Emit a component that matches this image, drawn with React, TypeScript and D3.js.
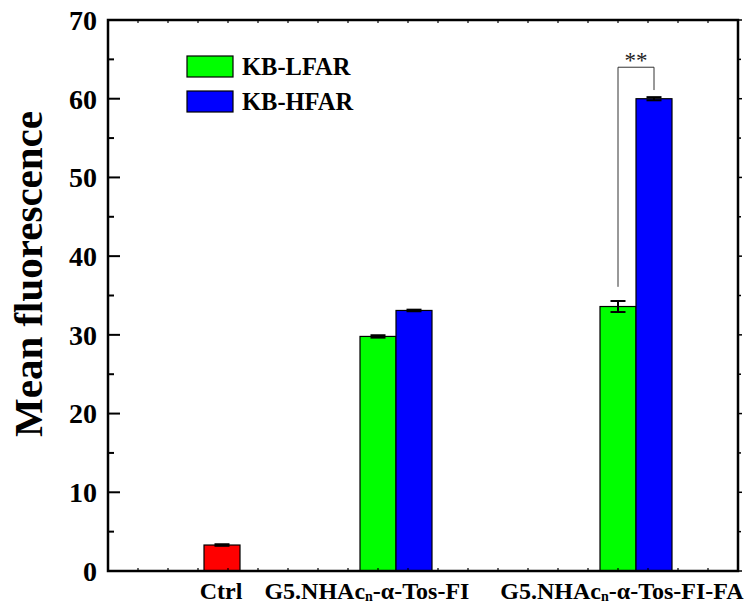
import React from "react";
import * as d3 from "d3";

const categories = ["Ctrl", "G5.NHAcn-α-Tos-FI", "G5.NHAcn-α-Tos-FI-FA"];
const seriesNames = ["KB-LFAR", "KB-HFAR"];
const ctrlValue = [3.3];
const ctrlError = [0.1];
const lfarValues = [29.8, 33.6];
const lfarErrors = [0.15, 0.7];
const hfarValues = [33.1, 60.0];
const hfarErrors = [0.1, 0.2];
const yTicks = [0, 10, 20, 30, 40, 50, 60, 70];

const W = 750;
const H = 609;
const FONT = "'Liberation Serif', 'Times New Roman', serif";

// layout (x-domain units)
const ctrlPos = 3.8;
const groupPos = [9.6, 17.6];
const barW = 1.2;
const labelPos = [3.77, 8.63, 17.13];

export default function App() {
  const x = d3.scaleLinear().domain([0, 21]).range([108, 738]);
  const y = d3.scaleLinear().domain([0, 70]).range([571, 20]);
  const minor = d3.range(5, 70, 10);
  const xMinor = d3.range(1, 21, 1);

  const bars: { x0: number; x1: number; v: number; e: number; fill: string }[] = [];
  bars.push({ x0: ctrlPos - barW / 2, x1: ctrlPos + barW / 2, v: ctrlValue[0], e: ctrlError[0], fill: "#ff0000" });
  groupPos.forEach((g, i) => {
    bars.push({ x0: g - barW, x1: g, v: lfarValues[i], e: lfarErrors[i], fill: "#00ff00" });
    bars.push({ x0: g, x1: g + barW, v: hfarValues[i], e: hfarErrors[i], fill: "#0000ff" });
  });

  const gL = groupPos[1] - barW / 2;
  const gH = groupPos[1] + barW / 2;
  const brTop = y(64);

  return (
    <svg width={W} height={H} style={{ position: "absolute", left: 0, top: 0, background: "#fff" }} fontFamily={FONT}>
      {/* bars */}
      {bars.map((b, i) => (
        <rect key={i} x={x(b.x0)} y={y(b.v)} width={x(b.x1) - x(b.x0)} height={y(0) - y(b.v)}
          fill={b.fill} stroke="#000" strokeWidth={1.2} />
      ))}
      {/* error bars */}
      {bars.map((b, i) => {
        const cx = (x(b.x0) + x(b.x1)) / 2;
        return (
          <g key={"e" + i} stroke="#000" strokeWidth={2}>
            <line x1={cx} x2={cx} y1={y(b.v + b.e)} y2={y(b.v - b.e)} />
            <line x1={cx - 7.5} x2={cx + 7.5} y1={y(b.v + b.e)} y2={y(b.v + b.e)} />
            <line x1={cx - 7.5} x2={cx + 7.5} y1={y(b.v - b.e)} y2={y(b.v - b.e)} />
          </g>
        );
      })}
      {/* significance bracket */}
      <path d={`M${x(gL)},${y(36.1)} V${brTop} H${x(gH)} V${y(61.1)}`} fill="none" stroke="#333" strokeWidth={1} />
      <text x={(x(gL) + x(gH)) / 2} y={brTop + 1} textAnchor="middle" fontSize={23} fill="#222">**</text>

      {/* frame */}
      <rect x={x(0)} y={y(70)} width={x(21) - x(0)} height={y(0) - y(70)} fill="none" stroke="#000" strokeWidth={2.5} />
      {yTicks.map((t) => (
        <g key={"yt" + t}>
          <line x1={x(0)} x2={x(0) + 12} y1={y(t)} y2={y(t)} stroke="#000" strokeWidth={2} />
          <line x1={x(21)} x2={x(21) + 4} y1={y(t)} y2={y(t)} stroke="#000" strokeWidth={1.5} />
          <text x={97} y={y(t)} dy="0.35em" textAnchor="end" fontSize={28} fontWeight="bold">{t}</text>
        </g>
      ))}
      {minor.map((t) => (
        <g key={"ym" + t}>
          <line x1={x(0)} x2={x(0) + 6} y1={y(t)} y2={y(t)} stroke="#000" strokeWidth={2} />
          <line x1={x(21)} x2={x(21) + 3} y1={y(t)} y2={y(t)} stroke="#000" strokeWidth={1.5} />
        </g>
      ))}
      {xMinor.map((t) => (
        <g key={"xm" + t} stroke="#000" strokeWidth={1.2}>
          <line x1={x(t)} x2={x(t)} y1={y(0)} y2={y(0) - 3} />
          <line x1={x(t)} x2={x(t)} y1={y(70)} y2={y(70) + 3} />
        </g>
      ))}

      {/* category labels */}
      {categories.map((c, i) => {
        const parts = c.split("NHAcn");
        return (
          <text key={"c" + i} x={x(labelPos[i])} y={599} textAnchor="middle" fontSize={24} fontWeight="bold">
            {parts.length === 1 ? c : (
              <>
                {parts[0] + "NHAc"}
                <tspan fontSize={14} dy={2}>n</tspan>
                <tspan dy={-2}>{parts[1]}</tspan>
              </>
            )}
          </text>
        );
      })}

      {/* y title */}
      <text transform={`translate(42,274) rotate(-90)`} textAnchor="middle" fontSize={41} fontWeight="bold">
        Mean fluorescence
      </text>

      {/* legend */}
      {seriesNames.map((s, i) => (
        <g key={"l" + i}>
          <rect x={187} y={56 + i * 35} width={46} height={21} fill={i === 0 ? "#00ff00" : "#0000ff"} stroke="#000" strokeWidth={1.2} />
          <text x={242} y={75 + i * 35} fontSize={24.5} fontWeight="bold">{s}</text>
        </g>
      ))}
    </svg>
  );
}
